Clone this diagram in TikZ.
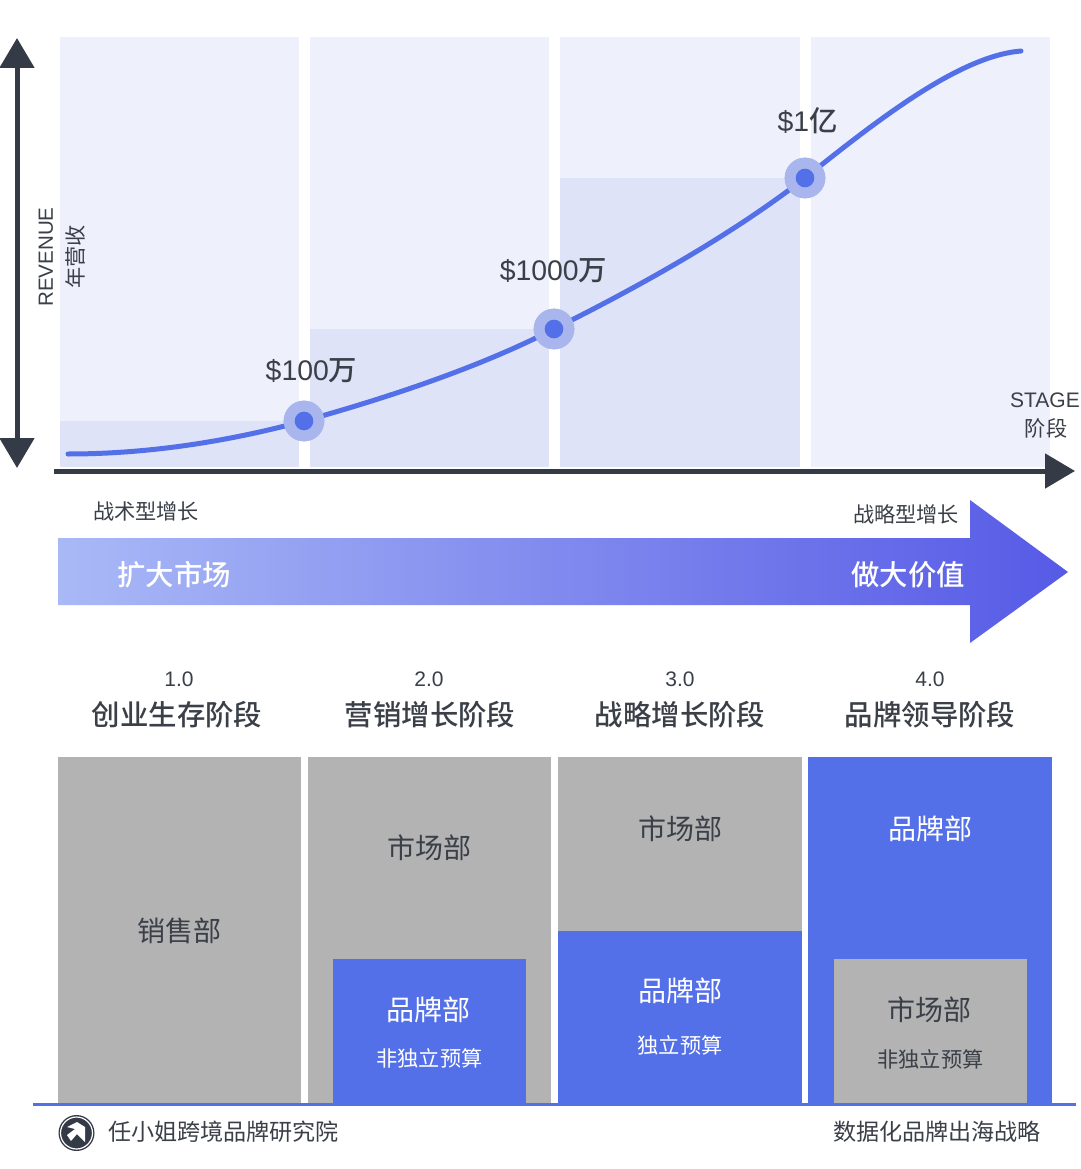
\documentclass[tikz,border=0pt]{standalone}
\usepackage{fontspec}
\setmainfont{Liberation Sans}
\newfontfamily\cjk{Noto Sans CJK SC}
\newfontfamily\cjkmed{Noto Sans CJK SC Medium}
\definecolor{axisDark}{HTML}{343A46}
\definecolor{textDark}{HTML}{3A3F48}
\definecolor{panelLight}{HTML}{EEF0FC}
\definecolor{panelDeep}{HTML}{DEE3F7}
\definecolor{brandBlue}{HTML}{5470E8}
\definecolor{dotHalo}{HTML}{A9B6EE}
\definecolor{deptGray}{HTML}{B3B3B3}
\definecolor{arrowStart}{HTML}{A9B9F6}
\definecolor{arrowEnd}{HTML}{565AE6}
\usetikzlibrary{calc, positioning, arrows.meta}

\begin{document}
\begin{tikzpicture}[
        x=0.75pt, y=-0.75pt,
        label28/.style={font=\cjk\fontsize{21}{24}\selectfont, text=textDark, inner sep=0pt},
        label21/.style={font=\cjk\fontsize{15.9}{19}\selectfont, text=textDark, inner sep=0pt},
        title28/.style={font=\cjkmed\fontsize{21.3}{24}\selectfont, text=textDark, inner sep=0pt},
        money/.style={font=\fontsize{21.3}{24}\selectfont, text=textDark, inner sep=0pt},
        axisline/.style={line width=3.75pt, axisDark},
        halo/.style={circle, fill=dotHalo, minimum size=30.5pt, inner sep=0pt},
        core/.style={circle, fill=brandBlue, minimum size=14pt, inner sep=0pt}
      ]
        \useasboundingbox (0,0) rectangle (1080,1169);
        \fill[white] (0,0) rectangle (1080,1169);

        % Stage panels
        \foreach \xa/\xb in {60/299, 310/549, 560/800, 811/1050}
          \fill[panelLight] (\xa,37) rectangle (\xb,467);
        \foreach \xa/\xb/\ya in {60/299/421, 310/549/329, 560/800/178}
          \fill[panelDeep] (\xa,\ya) rectangle (\xb,467);

        % Axes
        \coordinate (xstart) at (54,471);
        \coordinate (xend) at (1075,471);
        \coordinate (ytop) at (17,38);
        \coordinate (ybottom) at (17,468);
        \draw[axisline, -{Triangle[length=22.5pt, width=25.5pt]}] (xstart) -- (xend);
        \draw[axisline, {Triangle[length=22.5pt, width=25.5pt]}-{Triangle[length=22.5pt, width=25.5pt]}] (ybottom) -- (ytop);

        \node[rotate=90, font=\fontsize{15.4}{17}\selectfont, text=textDark, inner sep=0pt] (revenue) at (46,257) {REVENUE};
        \node[rotate=90, label21] (yearrev) at (75,257) {年营收};
        \node[font=\fontsize{15.75}{19}\selectfont, text=textDark, inner sep=0pt] (stage) at (1045,400) {STAGE};
        \node[label21] (stagecn) at (1046,428) {阶段};

        % Growth curve
        \coordinate (cstart) at (68,454);
        \coordinate (cend) at (1021,51);
        \node[halo] (m100) at (304,421) {};
        \node[halo] (m1000) at (554,329) {};
        \node[halo] (b1) at (805,178) {};
        \draw[line width=3.75pt, brandBlue, line cap=round]
          (cstart) .. controls (150,454) and (230,441) .. (m100.center)
          .. controls (390,397) and (480,367) .. (m1000.center)
          .. controls (640,286) and (730,236) .. (b1.center)
          .. controls (880,118) and (960,56) .. (cend);
        \node[halo] at (m100) {};
        \node[halo] at (m1000) {};
        \node[halo] at (b1) {};
        \node[core] at (m100) {};
        \node[core] at (m1000) {};
        \node[core] at (b1) {};

        \node[money] (m100text) at (311.5,371) {\$100{\cjkmed 万}};
        \node[money] (m1000text) at (553.5,271) {\$1000{\cjkmed 万}};
        \node[money] (b1text) at (807.5,121) {\$1{\cjkmed 亿}};

        % Gradient arrow
        \shade[left color=arrowStart, right color=arrowEnd]
          (58,538) -- (970,538) -- (970,500) -- (1068,572) -- (970,643) -- (970,605) -- (58,605) -- cycle;
        \node[label21] (tactic) at (146,511) {战术型增长};
        \node[label21] (strategy) at (906,514) {战略型增长};
        \node[title28, text=white] (expand) at (174,575) {扩大市场};
        \node[title28, text=white] (value) at (908,575) {做大价值};

        % Stage titles
        \foreach \cx/\tx/\num/\name in {179/177/1.0/创业生存阶段, 429/430/2.0/营销增长阶段, 680/680/3.0/战略增长阶段, 930/930/4.0/品牌领导阶段} {
          \node[font=\fontsize{15.75}{19}\selectfont, text=textDark, inner sep=0pt] at (\cx,679) {\num};
          \node[title28] at (\tx,715) {\name};
        }

        % Departments
        \fill[deptGray] (58,757) rectangle (301,1104);
        \fill[deptGray] (308,757) rectangle (551,1104);
        \fill[brandBlue] (333,959) rectangle (526,1104);
        \fill[deptGray] (558,757) rectangle (802,931);
        \fill[brandBlue] (558,931) rectangle (802,1104);
        \fill[brandBlue] (808,757) rectangle (1052,1104);
        \fill[deptGray] (834,959) rectangle (1027,1104);

        \node[label28] (sales) at (179,931) {销售部};
        \node[label28] (mkt2) at (429,848) {市场部};
        \node[label28, text=white] (brand2) at (428,1010) {品牌部};
        \node[label21, text=white] (budget2) at (429.5,1058) {非独立预算};
        \node[label28] (mkt3) at (680,829) {市场部};
        \node[label28, text=white] (brand3) at (680,991) {品牌部};
        \node[label21, text=white] (budget3) at (680,1045) {独立预算};
        \node[label28, text=white] (brand4) at (930,829) {品牌部};
        \node[label28] (mkt4) at (929,1010) {市场部};
        \node[label21] (budget4) at (930.5,1059) {非独立预算};

        % Footer
        \draw[line width=1.9pt, brandBlue] (33,1104.5) -- (1076,1104.5);
        \fill[axisDark] (76.5,1133) circle[radius=18];
        \draw[white, line width=0.9pt] (76.5,1133) circle[radius=16];
        \fill[white] (67,1127) -- (77,1122) -- (85,1127) -- (85,1142) -- (77,1134) -- (71,1141) -- (67,1135) -- (75,1129) -- cycle;
        \node[label21, font=\cjk\fontsize{17.3}{20}\selectfont, anchor=west] (org) at (108,1132) {任小姐跨境品牌研究院};
        \node[label21, font=\cjk\fontsize{17.3}{20}\selectfont, anchor=east] (slogan) at (1041,1132) {数据化品牌出海战略};
      \end{tikzpicture}
\end{document}
